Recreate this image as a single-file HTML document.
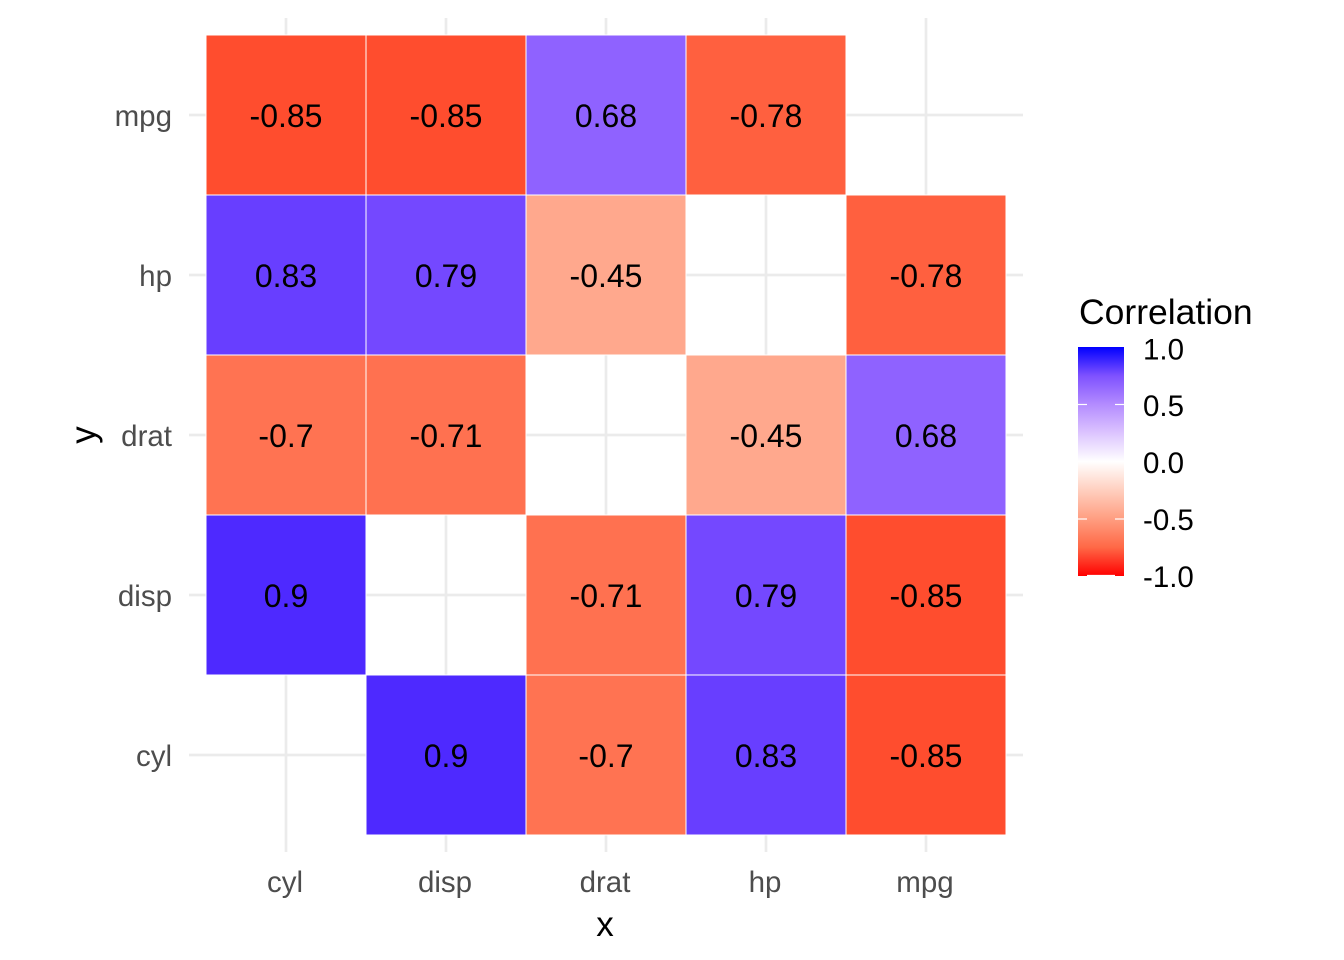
<!DOCTYPE html>
<html>
<head>
<meta charset="utf-8">
<style>
html,body{margin:0;padding:0;background:#fff;}
svg{display:block;}
text{font-family:"Liberation Sans",Arial,sans-serif;}
</style>
</head>
<body>
<svg width="1344" height="960" viewBox="0 0 1344 960" xmlns="http://www.w3.org/2000/svg">
  <defs>
    <linearGradient id="lg" x1="0" y1="0" x2="0" y2="1">
      <stop offset="0" stop-color="#0000FF"/>
      <stop offset="0.125" stop-color="#7E51FF"/>
      <stop offset="0.25" stop-color="#B38BFF"/>
      <stop offset="0.375" stop-color="#DCC4FF"/>
      <stop offset="0.5" stop-color="#FFFFFF"/>
      <stop offset="0.625" stop-color="#FFCFBF"/>
      <stop offset="0.75" stop-color="#FF9E81"/>
      <stop offset="0.875" stop-color="#FF6846"/>
      <stop offset="1" stop-color="#FF0000"/>
    </linearGradient>
  </defs>
  <rect width="1344" height="960" fill="#fff"/>

  <!-- grid lines -->
  <g stroke="#EBEBEB" stroke-width="2.7">
    <line x1="286" y1="18" x2="286" y2="852"/>
    <line x1="446" y1="18" x2="446" y2="852"/>
    <line x1="606" y1="18" x2="606" y2="852"/>
    <line x1="766" y1="18" x2="766" y2="852"/>
    <line x1="926" y1="18" x2="926" y2="852"/>
    <line x1="189" y1="115" x2="1023" y2="115"/>
    <line x1="189" y1="275" x2="1023" y2="275"/>
    <line x1="189" y1="435" x2="1023" y2="435"/>
    <line x1="189" y1="595" x2="1023" y2="595"/>
    <line x1="189" y1="755" x2="1023" y2="755"/>
  </g>

  <!-- tiles -->
  <g stroke="#fff" stroke-width="1">
    <rect x="206" y="35" width="160" height="160" fill="#FF4D2E"/>
    <rect x="366" y="35" width="160" height="160" fill="#FF4D2E"/>
    <rect x="526" y="35" width="160" height="160" fill="#8F62FF"/>
    <rect x="686" y="35" width="160" height="160" fill="#FF603F"/>

    <rect x="206" y="195" width="160" height="160" fill="#683EFF"/>
    <rect x="366" y="195" width="160" height="160" fill="#7448FF"/>
    <rect x="526" y="195" width="160" height="160" fill="#FFA88D"/>
    <rect x="846" y="195" width="160" height="160" fill="#FF603F"/>

    <rect x="206" y="355" width="160" height="160" fill="#FF7352"/>
    <rect x="366" y="355" width="160" height="160" fill="#FF7150"/>
    <rect x="686" y="355" width="160" height="160" fill="#FFA88D"/>
    <rect x="846" y="355" width="160" height="160" fill="#8F62FF"/>

    <rect x="206" y="515" width="160" height="160" fill="#4E29FF"/>
    <rect x="526" y="515" width="160" height="160" fill="#FF7150"/>
    <rect x="686" y="515" width="160" height="160" fill="#7448FF"/>
    <rect x="846" y="515" width="160" height="160" fill="#FF4D2E"/>

    <rect x="366" y="675" width="160" height="160" fill="#4E29FF"/>
    <rect x="526" y="675" width="160" height="160" fill="#FF7352"/>
    <rect x="686" y="675" width="160" height="160" fill="#683EFF"/>
    <rect x="846" y="675" width="160" height="160" fill="#FF4D2E"/>
  </g>

  <!-- tile labels -->
  <g font-size="32" fill="#000" text-anchor="middle">
    <text x="286" y="127">-0.85</text>
    <text x="446" y="127">-0.85</text>
    <text x="606" y="127">0.68</text>
    <text x="766" y="127">-0.78</text>

    <text x="286" y="287">0.83</text>
    <text x="446" y="287">0.79</text>
    <text x="606" y="287">-0.45</text>
    <text x="926" y="287">-0.78</text>

    <text x="286" y="447">-0.7</text>
    <text x="446" y="447">-0.71</text>
    <text x="766" y="447">-0.45</text>
    <text x="926" y="447">0.68</text>

    <text x="286" y="607">0.9</text>
    <text x="606" y="607">-0.71</text>
    <text x="766" y="607">0.79</text>
    <text x="926" y="607">-0.85</text>

    <text x="446" y="767">0.9</text>
    <text x="606" y="767">-0.7</text>
    <text x="766" y="767">0.83</text>
    <text x="926" y="767">-0.85</text>
  </g>

  <!-- y axis labels -->
  <g font-size="29.5" fill="#4D4D4D" text-anchor="end">
    <text x="172" y="126">mpg</text>
    <text x="172" y="286">hp</text>
    <text x="172" y="446">drat</text>
    <text x="172" y="606">disp</text>
    <text x="172" y="766">cyl</text>
  </g>

  <!-- x axis labels -->
  <g font-size="29.5" fill="#4D4D4D" text-anchor="middle">
    <text x="285" y="892">cyl</text>
    <text x="445" y="892">disp</text>
    <text x="605" y="892">drat</text>
    <text x="765" y="892">hp</text>
    <text x="925" y="892">mpg</text>
  </g>

  <!-- axis titles -->
  <text x="605" y="936" font-size="35" fill="#000" text-anchor="middle">x</text>
  <text x="95" y="435" font-size="35" fill="#000" text-anchor="middle" transform="rotate(-90 95 435)">y</text>

  <!-- legend -->
  <text x="1079" y="324" font-size="35.5" fill="#000">Correlation</text>
  <rect x="1078" y="347" width="46" height="229" fill="url(#lg)"/>
  <g stroke="#fff" stroke-width="1.2">
    <line x1="1078" y1="404.5" x2="1087" y2="404.5"/>
    <line x1="1115" y1="404.5" x2="1124" y2="404.5"/>
    <line x1="1078" y1="461.5" x2="1087" y2="461.5"/>
    <line x1="1115" y1="461.5" x2="1124" y2="461.5"/>
    <line x1="1078" y1="519" x2="1087" y2="519"/>
    <line x1="1115" y1="519" x2="1124" y2="519"/>
    <line x1="1087" y1="575.5" x2="1115" y2="575.5"/>
  </g>
  <g font-size="29.5" fill="#000">
    <text x="1143" y="359.5">1.0</text>
    <text x="1143" y="416">0.5</text>
    <text x="1143" y="473">0.0</text>
    <text x="1143" y="530">-0.5</text>
    <text x="1143" y="587">-1.0</text>
  </g>
</svg>
</body>
</html>
